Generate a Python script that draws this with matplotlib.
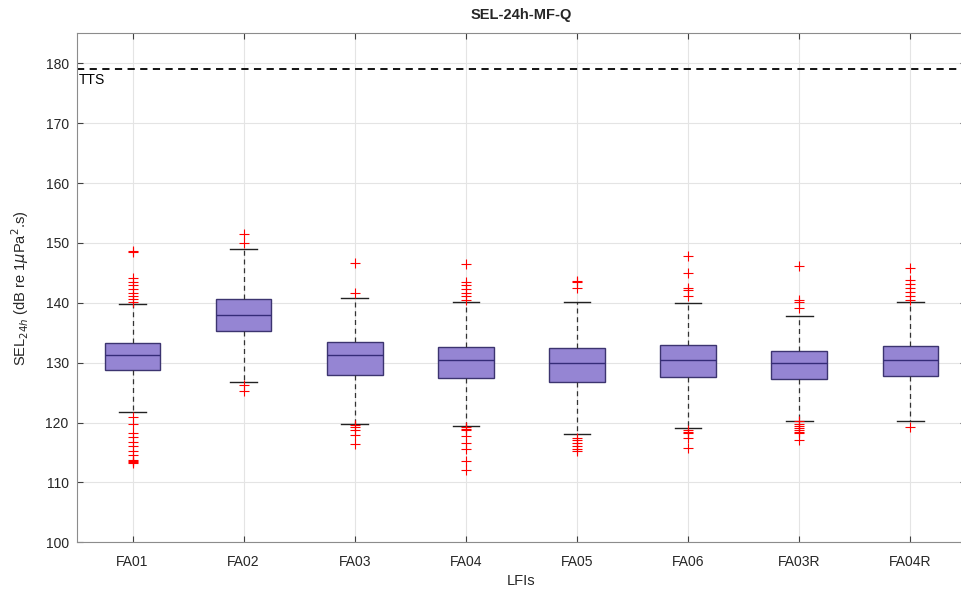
import numpy as np
import matplotlib.pyplot as plt

plt.rcParams['font.family'] = ['Liberation Sans', 'DejaVu Sans']

# LFI-Stationen und Boxplot-Kennwerte (dB re 1 uPa^2 s)
stationen = ["FA01", "FA02", "FA03", "FA04", "FA05", "FA06", "FA03R", "FA04R"]
median = [131.2, 138.0, 131.2, 130.4, 130.0, 130.4, 130.0, 130.4]
q1 = [128.8, 135.3, 127.9, 127.5, 126.7, 127.6, 127.2, 127.8]
q3 = [133.3, 140.7, 133.5, 132.6, 132.5, 133.0, 132.0, 132.8]
whisker_unten = [121.7, 126.8, 119.7, 119.4, 118.05, 119.05, 120.3, 120.2]
whisker_oben = [139.8, 148.9, 140.8, 140.2, 140.2, 139.9, 137.8, 140.2]

ausreisser = [
    [148.7, 148.4, 144.1, 143.5, 142.9, 142.3, 141.7, 141.1, 140.6, 140.2,
     121.0, 119.8, 118.2, 117.5, 116.8, 116.0, 115.3, 114.5, 113.8, 113.6, 113.4, 113.2],
    [151.5, 150.0, 126.3, 125.2],
    [146.6, 141.6, 119.6, 119.3, 118.8, 117.9, 116.4],
    [146.5, 143.5, 142.9, 142.3, 141.7, 141.1, 140.5,
     119.3, 119.0, 118.8, 117.7, 116.5, 115.5, 113.6, 112.0],
    [143.6, 143.4, 142.4, 117.4, 117.0, 116.6, 116.0, 115.6, 115.2],
    [147.8, 144.9, 142.4, 142.1, 141.1, 118.8, 118.5, 118.2, 117.4, 115.7],
    [146.2, 140.4, 140.1, 139.2, 120.2, 119.8, 119.5, 119.1, 118.8, 118.5, 118.2, 117.1],
    [145.8, 143.8, 143.2, 142.5, 141.8, 141.1, 140.4, 119.3],
]

tts = 179.0

stats = []
for i in range(len(stationen)):
    stats.append({
        "med": median[i],
        "q1": q1[i],
        "q3": q3[i],
        "whislo": whisker_unten[i],
        "whishi": whisker_oben[i],
        "fliers": ausreisser[i],
        "label": stationen[i],
    })

fig = plt.figure(figsize=(9.62, 5.92), dpi=100)
ax = fig.add_axes([0.080, 0.084, 0.924, 0.8597])

pos = np.arange(1, len(stationen) + 1)
ax.bxp(stats, positions=pos, widths=0.5, patch_artist=True, capwidths=0.24,
       boxprops=dict(facecolor="#9585d3", edgecolor="#3c3470", linewidth=1.0),
       medianprops=dict(color="#352c78", linewidth=1.0),
       whiskerprops=dict(color="#333333", linestyle=(0, (4, 3)), linewidth=0.9),
       capprops=dict(color="#222222", linewidth=1.0),
       flierprops=dict(marker="+", markeredgecolor="red", markersize=6.5,
                       markeredgewidth=0.8, linestyle="none"))

# TTS Schwelle
ax.axhline(tts, color="black", linestyle=(0, (4, 3)), linewidth=1.3)
ax.text(0.52, tts - 0.6, "TTS", fontsize=10, va="top", ha="left")

ax.set_xlim(0.5, len(stationen) + 0.5)
ax.set_ylim(100, 185)
ax.set_yticks(np.arange(100, 181, 10))
ax.set_xticks(pos)
ax.set_xticklabels(stationen)
ax.tick_params(direction="in", length=4, labelsize=10, colors="#404040",
               top=True, right=True, labelcolor="#262626")
ax.tick_params(axis="x", pad=9)
ax.tick_params(axis="y", pad=6)
ax.grid(True, color="#e4e4e4", linewidth=0.8)
ax.set_axisbelow(True)
for s in ax.spines.values():
    s.set_color("#8c8c8c")

ax.set_title("SEL-24h-MF-Q", fontsize=10.5, fontweight="bold", color="#262626", pad=10)
ax.set_xlabel("LFIs", fontsize=10.5, color="#262626", labelpad=4)
ax.set_ylabel(r"SEL$_{24h}$ (dB re 1$\mu$Pa$^2$.s)", fontsize=10.5, color="#262626",
              labelpad=10)

plt.savefig("out.png", dpi=100)
